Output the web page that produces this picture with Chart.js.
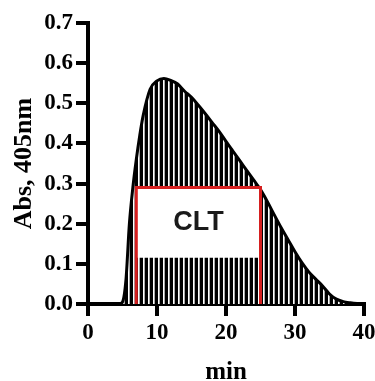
<!DOCTYPE html>
<html>
<head>
<meta charset="utf-8">
<script src="https://cdn.jsdelivr.net/npm/chart.js@4.4.1/dist/chart.umd.min.js"></script>
<style>
  html, body { margin: 0; padding: 0; background: #fff; }
  #wrap { width: 375px; height: 381px; }
</style>
</head>
<body>
<div id="wrap"><canvas id="absChart" width="375" height="381"></canvas></div>
<script>
// curve (min vs absorbance)
const timeMin = [0, 4.5, 5, 5.5, 6, 6.5, 7, 7.5, 8, 9, 10, 11, 12, 13, 14, 15, 16, 17, 18, 19, 20,
    21, 22, 23, 24, 25, 26, 27, 28, 29, 30, 31, 32, 33, 34, 35, 36, 37, 38, 39, 40];
const absValues = [0, 0, 0.005, 0.06, 0.2, 0.29, 0.36, 0.42, 0.47, 0.535, 0.556, 0.562, 0.557, 0.548, 0.53, 0.515,
    0.495, 0.474, 0.452, 0.43, 0.405, 0.381, 0.357, 0.333, 0.309, 0.285, 0.255, 0.222, 0.19, 0.16, 0.13,
    0.103, 0.08, 0.062, 0.045, 0.025, 0.012, 0.006, 0.003, 0.001, 0];

// CLT box
const boxX = [7, 7, 25, 25];
const boxY = [0, 0.29, 0.29, 0];
const whiteX = [7, 25];
const whiteTop = 0.29;
const whiteBottom = 0.115;
const cltLabel = 'CLT';
const cltAt = [16, 0.2025];

// tick values
const xTicks = [0, 10, 20, 30, 40];
const yTicks = [0, 0.1, 0.2, 0.3, 0.4, 0.5, 0.6, 0.7];

// vertical hatch pattern
function makeHatch() {
    const c = document.createElement('canvas');
    c.width = 5;
    c.height = 4;
    const g = c.getContext('2d');
    g.fillStyle = '#000';
    g.fillRect(0, 0, 5, 4);
    g.fillStyle = '#fff';
    g.fillRect(3, 0, 1, 4);
    g.fillStyle = '#aaa';
    g.fillRect(4, 0, 1, 4);
    return g.createPattern(c, 'repeat');
}

const cltText = {
    id: 'cltText',
    afterDatasetsDraw(chart) {
        const { ctx, scales } = chart;
        ctx.save();
        ctx.fillStyle = '#1a1a1a';
        ctx.font = 'bold 27px "Liberation Sans", Arial, sans-serif';
        ctx.textAlign = 'center';
        ctx.textBaseline = 'middle';
        ctx.fillText(cltLabel, scales.x.getPixelForValue(cltAt[0]), scales.y.getPixelForValue(cltAt[1]));
        ctx.restore();
    }
};

const serif = '"Liberation Serif", "Times New Roman", serif';

const ctx = document.getElementById('absChart').getContext('2d');
new Chart(ctx, {
    type: 'line',
    data: {
        datasets: [
            {
                data: timeMin.map((t, i) => ({ x: t, y: absValues[i] })),
                borderColor: '#000',
                borderWidth: 3,
                backgroundColor: makeHatch(),
                fill: 'origin',
                cubicInterpolationMode: 'monotone',
                pointRadius: 0,
                order: 3
            },
            {
                data: whiteX.map(t => ({ x: t, y: whiteTop })),
                borderWidth: 0,
                backgroundColor: '#fff',
                fill: { value: whiteBottom },
                pointRadius: 0,
                order: 2
            },
            {
                data: boxX.map((t, i) => ({ x: t, y: boxY[i] })),
                borderColor: '#d51f1f',
                borderWidth: 3,
                fill: false,
                tension: 0,
                pointRadius: 0,
                order: 1
            }
        ]
    },
    options: {
        responsive: false,
        animation: false,
        layout: { padding: { top: 23, right: 11, left: 0, bottom: 0 } },
        plugins: {
            legend: { display: false },
            tooltip: { enabled: false }
        },
        scales: {
            x: {
                type: 'linear',
                min: 0,
                max: 40,
                afterFit: s => { s.height = 77; s.paddingLeft = 0; s.paddingRight = 0; },
                afterBuildTicks: s => { s.ticks = xTicks.map(v => ({ value: v })); },
                border: { display: true, color: '#000', width: 4 },
                grid: { drawOnChartArea: false, drawTicks: true, tickLength: 12, color: '#000', lineWidth: 4 },
                ticks: {
                    color: '#000',
                    padding: 3,
                    maxRotation: 0,
                    font: { family: serif, size: 23, weight: 'bold' }
                },
                title: {
                    display: true,
                    text: 'min',
                    color: '#000',
                    padding: { bottom: -7 },
                    font: { family: serif, size: 25, weight: 'bold' }
                }
            },
            y: {
                min: 0,
                max: 0.7,
                afterFit: s => { s.width = 88; s.paddingTop = 0; s.paddingBottom = 0; },
                afterBuildTicks: s => { s.ticks = yTicks.map(v => ({ value: v })); },
                border: { display: true, color: '#000', width: 4 },
                grid: { drawOnChartArea: false, drawTicks: true, tickLength: 12, color: '#000', lineWidth: 4 },
                ticks: {
                    color: '#000',
                    padding: 3,
                    callback: v => v.toFixed(1),
                    font: { family: serif, size: 23, weight: 'bold' }
                },
                title: {
                    display: true,
                    text: 'Abs, 405nm',
                    color: '#000',
                    padding: { top: 9 },
                    font: { family: serif, size: 26, weight: 'bold' }
                }
            }
        }
    },
    plugins: [cltText]
});
</script>
</body>
</html>
